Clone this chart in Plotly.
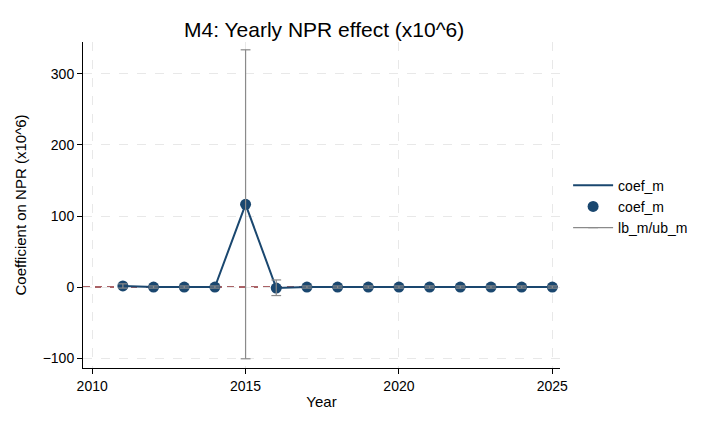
import plotly.graph_objects as go

years = [2011, 2012, 2013, 2014, 2015, 2016, 2017, 2018, 2019, 2020, 2021, 2022, 2023, 2024, 2025]
coef_m = [1.5, 0.0, 0.0, 0.0, 116.5, -1.5, 0.0, 0.0, 0.0, 0.0, 0.0, 0.0, 0.0, 0.0, 0.0]
lb_m = [-1.5, -1.5, -1.5, -1.5, -101.0, -12.0, -1.5, -1.5, -1.5, -1.5, -1.5, -1.5, -1.5, -1.5, -1.5]
ub_m = [4.5, 1.5, 1.5, 1.5, 334.0, 10.0, 1.5, 1.5, 1.5, 1.5, 1.5, 1.5, 1.5, 1.5, 1.5]

x_ticks = [2010, 2015, 2020, 2025]
y_ticks = [-100, 0, 100, 200, 300]

navy = "#1a476f"
gray = "#8a8a8a"
font = "Liberation Sans, Arial, sans-serif"

ci_x, ci_y = [], []
for yr, lo, hi in zip(years, lb_m, ub_m):
    ci_x += [yr, yr, None]
    ci_y += [lo, hi, None]

fig = go.Figure()
fig.add_trace(go.Scatter(x=years, y=coef_m, mode="lines", name="coef_m",
                         line=dict(color=navy, width=2)))
fig.add_trace(go.Scatter(x=years, y=coef_m, mode="markers", name="coef_m",
                         marker=dict(color=navy, size=11)))
fig.add_trace(go.Scatter(x=ci_x, y=ci_y, mode="lines+markers", name="lb_m/ub_m",
                         line=dict(color=gray, width=1.2),
                         marker=dict(symbol="line-ew", size=7,
                                     line=dict(color=gray, width=1.2))))

fig.add_shape(type="line", xref="paper", x0=0, x1=1, yref="y", y0=0, y1=0,
              line=dict(color="#8e2f35", width=1.6, dash="7px,5px"), layer="between")

fig.update_layout(
    width=712, height=424,
    paper_bgcolor="white", plot_bgcolor="white",
    margin=dict(l=75, r=160, t=34, b=64),
    font=dict(family=font, size=14, color="black"),
    title=dict(text="M4: Yearly NPR effect (x10^6)", x=0.444, xanchor="center",
               y=0.949, yanchor="middle", font=dict(size=21, color="black")),
    legend=dict(x=1.017, y=0.495, xanchor="left", yanchor="middle",
                font=dict(size=14), tracegroupgap=0, itemwidth=40,
                bgcolor="rgba(0,0,0,0)"),
    xaxis=dict(range=[2009.7, 2025.25], tickvals=x_ticks, showline=True,
               linecolor="black", linewidth=1, ticks="outside", ticklen=5,
               tickcolor="black", showgrid=True, gridcolor="#e8e8e8",
               griddash="dash", gridwidth=1, zeroline=False,
               title=dict(text="Year", font=dict(size=15), standoff=3)),
    yaxis=dict(range=[-114, 345], tickvals=y_ticks, showline=True,
               linecolor="black", linewidth=1, ticks="outside", ticklen=5,
               tickcolor="black", showgrid=True, gridcolor="#e8e8e8",
               griddash="dash", gridwidth=1, zeroline=False,
               title=dict(text="Coefficient on NPR (x10^6)", font=dict(size=15),
                          standoff=12)),
)

fig.write_html("out.html")
